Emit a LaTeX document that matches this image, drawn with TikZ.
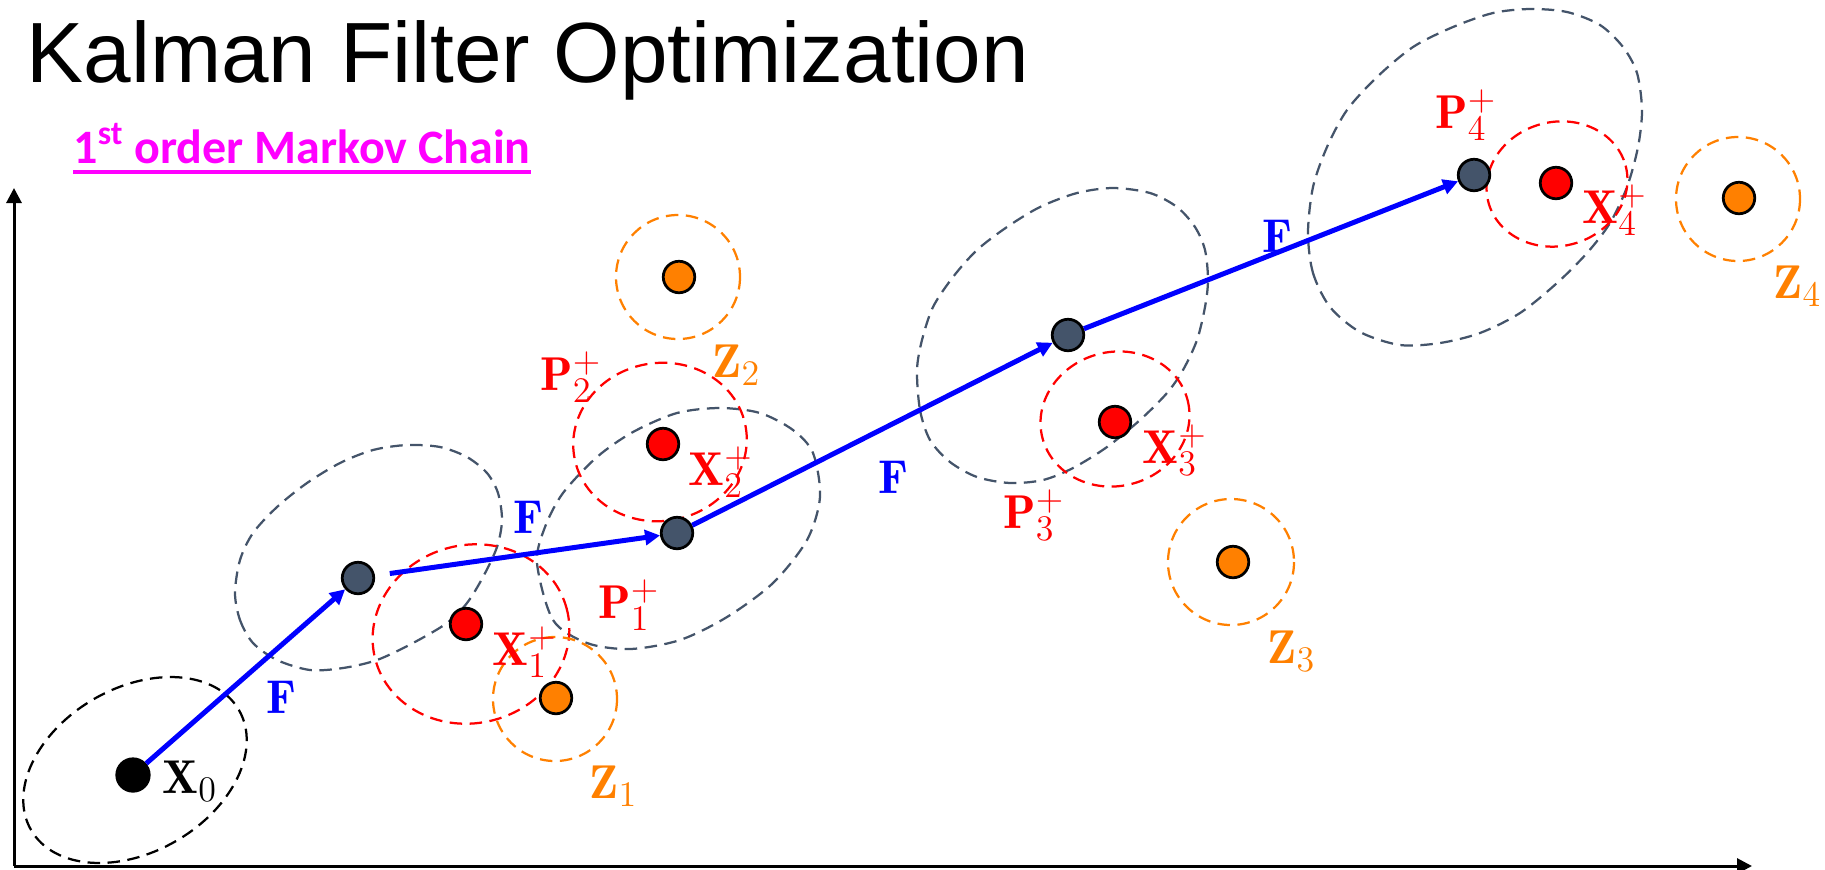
\documentclass[tikz,border=0pt]{standalone}
\usepackage{fontspec}
\usetikzlibrary{arrows.meta}
\newfontfamily\titlefont{Liberation Sans}
\newfontfamily\calfont{Carlito}
\definecolor{kgray}{HTML}{44546A}
\definecolor{kred}{HTML}{FF0000}
\definecolor{korange}{HTML}{FF8000}
\definecolor{kblue}{HTML}{0000FF}
\definecolor{kmag}{HTML}{FF00FF}
\tikzset{
  kdot/.style={circle, draw=black, line width=1.1pt, minimum size=12.6pt, inner sep=0pt},
  gdot/.style={kdot, fill=kgray},
  rdot/.style={kdot, fill=kred},
  odot/.style={kdot, fill=korange},
  bdot/.style={kdot, fill=black, minimum size=13pt},
  dashline/.style={line width=0.9pt, dash pattern=on 5pt off 3pt},
  gcov/.style={dashline, draw=kgray},
  rcov/.style={dashline, draw=kred},
  ocov/.style={dashline, draw=korange},
  kcov/.style={dashline, draw=black},
  farrow/.style={draw=kblue, line width=2pt, -{Triangle[length=6pt,width=6pt]}},
  axisline/.style={line width=1.2pt, -{Triangle[length=6pt,width=6pt]}},
  lab/.style={anchor=base west, inner sep=0pt, font=\fontsize{19}{22}\selectfont},
  flab/.style={inner sep=0pt, text=kblue, font=\fontsize{19}{22}\selectfont},
}
\begin{document}
\begin{tikzpicture}[x=0.4pt, y=-0.4pt]
\useasboundingbox (0,0) rectangle (1825,869);

% axes
\coordinate (origin) at (14,866);
\coordinate (ytop) at (14,188);
\coordinate (xend) at (1752,866);
\draw[axisline] (origin) -- (ytop);
\draw[axisline] (origin) -- (xend);

% title
\node[anchor=base west, inner sep=0pt, font=\titlefont\fontsize{34.2}{40}\selectfont] (title) at (26,82) {Kalman Filter Optimization};
\node[anchor=base west, inner sep=0pt, text=kmag, font=\calfont\bfseries\fontsize{19.2}{22}\selectfont] (sub) at (73,163) {1\textsuperscript{st} order Markov Chain};
\draw[kmag, line width=1.3pt] ([yshift=-3.6pt]sub.base west) -- ([yshift=-3.6pt]sub.base east);

% covariance shapes
\draw[kcov, rotate around={30:(135,770)}] (135,770) ellipse [x radius=120, y radius=82];
\draw[gcov] plot[smooth cycle] coordinates {(235,593) (240,620) (253,643) (277,660) (310,670) (343,668) (377,660) (413,643) (447,623) (467,603) (483,577) (497,547) (502,520) (498,493) (487,473) (467,457) (440,447) (407,445) (373,450) (340,463) (307,483) (277,507) (253,533) (240,560)};
\draw[gcov] plot[smooth cycle] coordinates {(537,563) (553,620) (587,643) (630,649) (680,640) (727,617) (773,583) (807,540) (820,497) (813,453) (793,430) (760,413) (720,408) (677,413) (633,432) (597,457) (563,493) (545,527)};
\draw[gcov] plot[smooth cycle] coordinates {(917,370) (920,410) (930,440) (950,462) (977,477) (1010,483) (1043,480) (1073,468) (1107,447) (1140,420) (1167,393) (1183,370) (1197,340) (1205,307) (1208,280) (1205,250) (1195,227) (1177,207) (1150,193) (1113,188) (1077,193) (1040,207) (1007,227) (977,250) (953,277) (933,307) (922,340)};
\draw[gcov] plot[smooth cycle] coordinates {(1308,233) (1313,273) (1330,307) (1360,332) (1400,345) (1440,343) (1480,333) (1520,313) (1557,283) (1587,253) (1610,223) (1627,187) (1638,147) (1642,110) (1637,73) (1623,47) (1600,25) (1567,12) (1530,9) (1493,13) (1453,27) (1413,47) (1377,77) (1347,110) (1327,147) (1313,187)};

\draw[rcov, rotate around={15:(471,634)}] (471,634) ellipse [x radius=99, y radius=89];
\draw[rcov, rotate around={10:(660,442)}] (660,442) ellipse [x radius=87, y radius=79];
\draw[rcov, rotate around={15:(1115,419)}] (1115,419) ellipse [x radius=75, y radius=67];
\draw[rcov, rotate around={15:(1557,184)}] (1557,184) ellipse [x radius=71, y radius=62];

\draw[ocov] (555,699) circle [radius=62];
\draw[ocov] (678,277) circle [radius=62];
\draw[ocov] (1231,562) circle [radius=63];
\draw[ocov] (1738,199) circle [radius=62];

% dots
\node[bdot] (x0) at (133,775) {};
\node[gdot] (g1) at (358,578) {};
\node[gdot] (g2) at (677,533) {};
\node[gdot] (g3) at (1068,335) {};
\node[gdot] (g4) at (1474,175) {};
\node[rdot] (r1) at (466,624) {};
\node[rdot] (r2) at (663,444) {};
\node[rdot] (r3) at (1115,422) {};
\node[rdot] (r4) at (1556,183) {};
\node[odot] (z1) at (556,698) {};
\node[odot] (z2) at (679,277) {};
\node[odot] (z3) at (1233,562) {};
\node[odot] (z4) at (1739,198) {};

% transitions
\draw[farrow] (x0) -- (g1);
\draw[farrow, shorten <=6pt] (g1) -- (g2);
\draw[farrow] (g2) -- (g3);
\draw[farrow] (g3) -- (g4);

\node[flab] (f1) at (281,697) {$\mathbf{F}$};
\node[flab] (f2) at (528,517) {$\mathbf{F}$};
\node[flab] (f3) at (893,477) {$\mathbf{F}$};
\node[flab] (f4) at (1277,236) {$\mathbf{F}$};

% labels
\node[lab] (lx0) at (162,793) {$\mathbf{X}_0$};
\node[lab, text=kred] (lx1) at (492,665) {$\mathbf{X}_1^+$};
\node[lab, text=kred] (lp1) at (598,618) {$\mathbf{P}_1^+$};
\node[lab, text=korange] (lz1) at (589,798) {$\mathbf{Z}_1$};
\node[lab, text=kred] (lx2) at (688,485) {$\mathbf{X}_2^+$};
\node[lab, text=kred] (lp2) at (540,390) {$\mathbf{P}_2^+$};
\node[lab, text=korange] (lz2) at (712,377) {$\mathbf{Z}_2$};
\node[lab, text=kred] (lx3) at (1142,463) {$\mathbf{X}_3^+$};
\node[lab, text=kred] (lp3) at (1003,528) {$\mathbf{P}_3^+$};
\node[lab, text=korange] (lz3) at (1267,663) {$\mathbf{Z}_3$};
\node[lab, text=kred] (lx4) at (1582,223) {$\mathbf{X}_4^+$};
\node[lab, text=kred] (lp4) at (1435,128) {$\mathbf{P}_4^+$};
\node[lab, text=korange] (lz4) at (1773,298) {$\mathbf{Z}_4$};
\end{tikzpicture}
\end{document}
